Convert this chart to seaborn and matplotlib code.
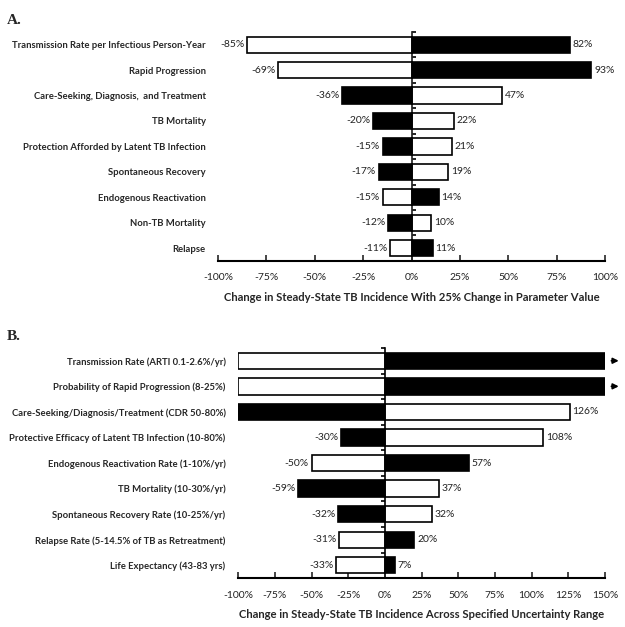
import matplotlib
matplotlib.use("Agg")
import matplotlib.pyplot as plt
import numpy as np
import pandas as pd
import seaborn as sns

# Panel A: +/-25% change in each parameter
params_a = [
    "Transmission Rate per Infectious Person-Year",
    "Rapid Progression",
    "Care-Seeking, Diagnosis,  and Treatment",
    "TB Mortality",
    "Protection Afforded by Latent TB Infection",
    "Spontaneous Recovery",
    "Endogenous Reactivation",
    "Non-TB Mortality",
    "Relapse",
]
black_a = [82, 93, -36, -20, -15, -17, 14, -12, 11]
white_a = [-85, -69, 47, 22, 21, 19, -15, 10, -11]
ticks_a = [-100, -75, -50, -25, 0, 25, 50, 75, 100]
xlabel_a = "Change in Steady-State TB Incidence With 25% Change in Parameter Value"

# Panel B: across the uncertainty range
params_b = [
    "Transmission Rate (ARTI 0.1-2.6%/yr)",
    "Probability of Rapid Progression (8-25%)",
    "Care-Seeking/Diagnosis/Treatment (CDR 50-80%)",
    "Protective Efficacy of Latent TB Infection (10-80%)",
    "Endogenous Reactivation Rate (1-10%/yr)",
    "TB Mortality (10-30%/yr)",
    "Spontaneous Recovery Rate (10-25%/yr)",
    "Relapse Rate (5-14.5% of TB as Retreatment)",
    "Life Expectancy (43-83 yrs)",
]
black_b = [150, 150, -100, -30, 57, -59, -32, 20, 7]
white_b = [-100, -100, 126, 108, -50, 37, 32, -31, -33]
off_scale_b = [True, True, False, False, False, False, False, False, False]
ticks_b = [-100, -75, -50, -25, 0, 25, 50, 75, 100, 125, 150]
xlabel_b = "Change in Steady-State TB Incidence Across Specified Uncertainty Range"

sns.set_theme(style="white")
plt.rcParams["font.family"] = ["Lato", "DejaVu Sans"]


def tornado(ax, params, black, white, ticks, xlabel):
    lo, hi = ticks[0], ticks[-1]
    n = len(params)
    for vals, face in [(white, "white"), (black, "black")]:
        df = pd.DataFrame({"param": params, "value": vals})
        sns.barplot(data=df, x="value", y="param", color=face, saturation=1,
                    edgecolor="black", linewidth=1.2, width=0.64, ax=ax)
        labels = ["" if (v <= lo or v >= hi) else f"{v:.0f}%" for v in vals]
        ax.bar_label(ax.containers[-1], labels=labels, padding=2, fontsize=7.5,
                     color="#222222")
    ax.set_xlim(lo, hi)
    ax.set_ylim(n - 0.5, -0.5)
    ax.set_xticks(ticks, [f"{t}%" for t in ticks])
    ax.tick_params(axis="x", direction="in", length=4, width=1.2, labelsize=7.5,
                   pad=9, bottom=True, labelcolor="#222222")
    ax.tick_params(axis="y", length=0, pad=9, labelsize=6.8)
    for lbl in ax.get_yticklabels():
        lbl.set_fontweight("bold")
    ax.set_ylabel("")
    ax.set_xlabel(xlabel, fontsize=8.1, fontweight="bold", labelpad=7)
    for s in ["top", "right", "left"]:
        ax.spines[s].set_visible(False)
    ax.spines["bottom"].set_color("black")
    ax.spines["bottom"].set_linewidth(1.5)
    # vertical zero line with ticks at category boundaries
    zero = (0 - lo) / (hi - lo)
    sec = ax.secondary_yaxis(zero)
    sec.set_yticks(np.arange(-0.5, n, 1.0), labels=[])
    sec.tick_params(direction="out", length=3, width=1.2, color="black")
    sec.spines["left"].set_color("black")
    sec.spines["left"].set_linewidth(1.2)


fig = plt.figure(figsize=(6.25, 6.27), dpi=100)
ax_a = fig.add_axes([0.349, 0.584, 0.619, 0.365])
ax_b = fig.add_axes([0.381, 0.078, 0.587, 0.367])

tornado(ax_a, params_a, black_a, white_a, ticks_a, xlabel_a)
tornado(ax_b, params_b, black_b, white_b, ticks_b, xlabel_b)

# arrows for off-scale bars
for i, flag in enumerate(off_scale_b):
    if flag:
        ax_b.annotate("", xy=(1.045, i), xytext=(1.01, i),
                      xycoords=("axes fraction", "data"),
                      arrowprops=dict(arrowstyle="-|>", color="black", lw=1.3,
                                      mutation_scale=8),
                      annotation_clip=False)

fig.text(0.011, 0.978, "A.", fontsize=11, fontweight="bold",
         family="Liberation Serif", va="top")
fig.text(0.011, 0.473, "B.", fontsize=11, fontweight="bold",
         family="Liberation Serif", va="top")

fig.savefig("out.png", dpi=100)
